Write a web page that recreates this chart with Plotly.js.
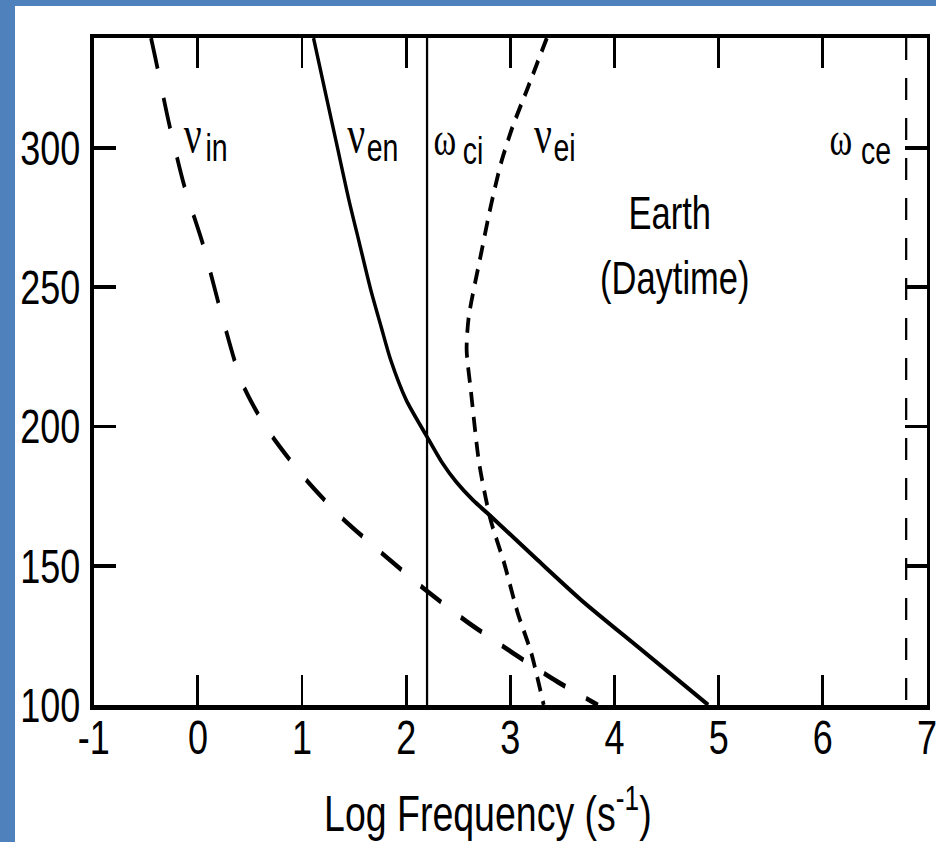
<!DOCTYPE html>
<html>
<head>
<meta charset="utf-8">
<script src="https://cdn.plot.ly/plotly-3.0.1.min.js"></script>
<style>
  html, body { margin: 0; padding: 0; width: 936px; height: 842px; background: #4f81bd; overflow: hidden; }
  #frame { position: absolute; left: 15px; top: 6px; width: 921px; height: 836px; background: #ffffff; overflow: hidden; }
  /* the reference figure is horizontally condensed: draw wider, then squeeze */
  #chart { position: absolute; left: 0; top: 0; width: 1228px; height: 836px; transform: scaleX(0.75); transform-origin: 0 0; }
</style>
</head>
<body>
<div id="frame"><div id="chart"></div></div>
<script>
// Ion-neutral collision frequency (long dashes)
const nuInAlt  = [339.5, 332.6, 309.3, 286.3, 265.2, 242.6, 216.0, 199.9, 183.0, 168.0, 154.7, 141.8, 130.0, 118.8, 108.4, 100];
const nuInLogF = [-0.45, -0.41, -0.28, -0.13, 0.05, 0.21, 0.42, 0.65, 0.99, 1.36, 1.76, 2.17, 2.58, 3.02, 3.45, 3.84];

// Electron-neutral collision frequency (solid)
const nuEnAlt  = [339.5, 317.2, 301.8, 281.3, 265.9, 249.0, 235.7, 224.0, 209.5, 196.3, 187.3, 180.1, 173.6, 168.2, 152.1, 137.7, 119.8, 100];
const nuEnLogF = [1.11, 1.24, 1.33, 1.45, 1.55, 1.66, 1.76, 1.85, 2.00, 2.20, 2.34, 2.48, 2.64, 2.80, 3.26, 3.68, 4.26, 4.90];

// Electron-ion collision frequency (short dashes)
const nuEiAlt  = [339.5, 321.9, 307.5, 294.6, 278.8, 262.3, 239.3, 227.5, 213.1, 186.9, 166.5, 151.0, 133.1, 118.7, 100];
const nuEiLogF = [3.35, 3.17, 3.02, 2.91, 2.81, 2.72, 2.60, 2.58, 2.62, 2.70, 2.81, 2.94, 3.07, 3.20, 3.32];

// Ion and electron gyrofrequencies (vertical lines)
const omegaCiAlt  = [100, 339.5];
const omegaCiLogF = [2.2, 2.2];
const omegaCeAlt  = [339.5, 100];
const omegaCeLogF = [6.8, 6.8];

const xTickVals = [-1, 0, 1, 2, 3, 4, 5, 6, 7];
const xTickText = ['-1', '0', '1', '2', '3', '4', '5', '6', '7'];
const yTickVals = [100, 150, 200, 250, 300];
const yTickText = ['100', '150', '200', '250', '300'];

const SANS = '"Liberation Sans", Arial, Helvetica, sans-serif';
const SERIF = '"Liberation Serif", "DejaVu Serif", serif';

const traces = [
  { x: nuInLogF, y: nuInAlt, mode: 'lines', name: 'ν in', line: { color: '#000', width: 5, dash: '32px,30px', shape: 'spline', smoothing: 0.7 } },
  { x: nuEnLogF, y: nuEnAlt, mode: 'lines', name: 'ν en', line: { color: '#000', width: 4.5, shape: 'spline', smoothing: 0.7 } },
  { x: nuEiLogF, y: nuEiAlt, mode: 'lines', name: 'ν ei', line: { color: '#000', width: 5, dash: '15px,10px', shape: 'spline', smoothing: 0.7 } },
  { x: omegaCiLogF, y: omegaCiAlt, mode: 'lines', name: 'ω ci', line: { color: '#000', width: 3 } },
  { x: omegaCeLogF, y: omegaCeAlt, mode: 'lines', name: 'ω ce', line: { color: '#000', width: 3, dash: '22px,18px' } }
];

function greek(ch, x, y, size) {
  return { x: x, y: y, xref: 'x', yref: 'y', text: ch, showarrow: false, xanchor: 'center', yanchor: 'middle',
           font: { family: SERIF, size: size, color: '#000' } };
}
function sub(t, x, y) {
  return { x: x, y: y, xref: 'x', yref: 'y', text: t, showarrow: false, xanchor: 'center', yanchor: 'middle',
           font: { family: SANS, size: 38, color: '#000' } };
}

const layout = {
  width: 1228, height: 836,
  margin: { l: 105, r: 12, t: 32, b: 137 },
  paper_bgcolor: '#ffffff', plot_bgcolor: '#ffffff',
  showlegend: false,
  font: { family: SANS, size: 48, color: '#000' },
  xaxis: {
    range: [-1, 7], tickvals: xTickVals, ticktext: xTickText,
    ticks: 'inside', ticklen: 30, tickwidth: 3.8, tickcolor: '#000',
    showline: true, linewidth: 4.5, linecolor: '#000', mirror: 'ticks',
    showgrid: false, zeroline: false,
    ticklabelstandoff: -13, ticklabeloverflow: 'allow',
    tickfont: { family: SANS, size: 48, color: '#000' }
  },
  yaxis: {
    range: [100, 339.5], tickvals: yTickVals, ticktext: yTickText,
    ticks: 'inside', ticklen: 30, tickwidth: 3.8, tickcolor: '#000',
    showline: true, linewidth: 4.5, linecolor: '#000', mirror: 'ticks',
    showgrid: false, zeroline: false,
    ticklabelstandoff: 4,
    tickfont: { family: SANS, size: 48, color: '#000' }
  },
  annotations: [
    greek('ν', -0.05, 305, 53), sub('in', 0.18, 300),
    greek('ν', 1.52, 305, 53), sub('en', 1.77, 300),
    greek('ω', 2.37, 303, 46), sub('ci', 2.64, 299),
    greek('ν', 3.31, 305, 53), sub('ei', 3.52, 300),
    greek('ω', 6.17, 303, 46), sub('ce', 6.51, 299),
    { x: 4.53, y: 276.7, xref: 'x', yref: 'y', text: 'Earth', showarrow: false, xanchor: 'center', yanchor: 'middle',
      font: { family: SANS, size: 46, color: '#000' } },
    { x: 4.58, y: 253.4, xref: 'x', yref: 'y', text: '(Daytime)', showarrow: false, xanchor: 'center', yanchor: 'middle',
      font: { family: SANS, size: 46, color: '#000' } },
    // x-axis title, placed as in the reference (slightly left of the plot centre)
    { x: 0.473, y: -0.158, xref: 'paper', yref: 'paper', text: 'Log Frequency (s<sup>-1</sup>)', showarrow: false,
      xanchor: 'center', yanchor: 'middle', font: { family: SANS, size: 50, color: '#000' } }
  ]
};

Plotly.newPlot('chart', traces, layout, { displayModeBar: false, staticPlot: true });
</script>
</body>
</html>
